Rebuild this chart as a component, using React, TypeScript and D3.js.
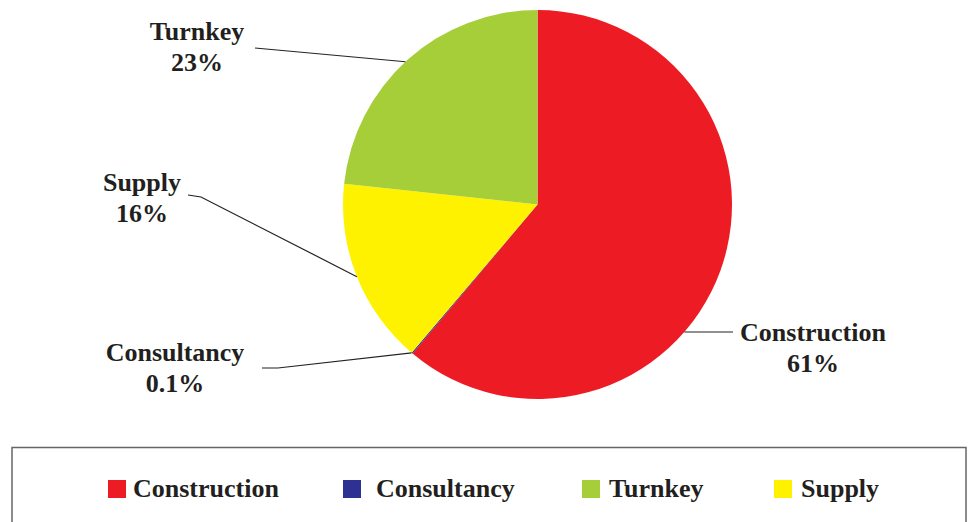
import React from "react";
import * as d3 from "d3";

const categories = ["Construction", "Consultancy", "Supply", "Turnkey"];
const values = [61.1, 0.1, 15.5, 23.3];
const colors = ["#ED1C24", "#2E3192", "#FFF200", "#A6CE39"];
const legendOrder = ["Construction", "Consultancy", "Turnkey", "Supply"];

const W = 976;
const H = 522;
const cx = 537.5;
const cy = 204.5;
const R = 194.5;
const FONT = "Liberation Serif";

const labelLayout: Record<string, { tx: number; ty: number; line: [number, number][] }> = {
  Construction: { tx: 813, ty: 341, line: [[733, 332]] },
  Consultancy: { tx: 175, ty: 361, line: [[278, 368], [262, 368]] },
  Supply: { tx: 142, ty: 191, line: [[201, 197], [188, 195]] },
  Turnkey: { tx: 197, ty: 40, line: [[255, 48]] },
};
const edgeAngleFrac: Record<string, number> = {
  Construction: 0.55,
  Consultancy: 1.0,
  Supply: 0.5,
  Turnkey: 0.49,
};

function fmt(v: number) {
  return v < 1 ? `${v.toFixed(1)}%` : `${Math.round(v)}%`;
}

export default function App() {
  const data = categories.map((c, i) => ({ name: c, value: values[i], color: colors[i] }));
  const pie = d3.pie<any>().value((d) => d.value).sort(null);
  const arcs = pie(data);
  const arcGen = d3.arc<any>().innerRadius(0).outerRadius(R);

  const legendX = d3.scaleOrdinal<string, number>().domain(legendOrder).range([108, 343, 582, 774]);
  const legendTextX = d3.scaleOrdinal<string, number>().domain(legendOrder).range([133, 376, 609, 801]);

  const textStyle = { fontFamily: FONT, fontWeight: 700, fontSize: 26 } as React.CSSProperties;

  return (
    <svg width={W} height={H} style={{ position: "absolute", left: 0, top: 0 }}>
      <rect x={0} y={0} width={W} height={H} fill="#fff" />
      <g transform={`translate(${cx},${cy})`}>
        {arcs.map((a, i) => (
          <path key={i} d={arcGen(a) || ""} fill={a.data.color} />
        ))}
      </g>
      {arcs.map((a, i) => {
        const name = a.data.name;
        const lay = labelLayout[name];
        let ang = a.startAngle + (a.endAngle - a.startAngle) * edgeAngleFrac[name];
        if (name === "Construction") {
          const yy = lay.line[0][1] - cy;
          const xx = Math.sqrt(R * R - yy * yy);
          ang = Math.atan2(xx, -yy);
        }
        const ex = cx + Math.sin(ang) * R;
        const ey = cy - Math.cos(ang) * R;
        const pts: [number, number][] = [[ex, ey], ...lay.line];
        return (
          <g key={"l" + i}>
            <polyline
              points={pts.map((p) => p.join(",")).join(" ")}
              fill="none"
              stroke="#222"
              strokeWidth={1.2}
            />
            <text x={lay.tx} y={lay.ty} textAnchor="middle" style={textStyle} fill="#231f20">
              {name}
            </text>
            <text x={lay.tx} y={lay.ty + 31} textAnchor="middle" style={textStyle} fill="#231f20">
              {fmt(a.data.value)}
            </text>
          </g>
        );
      })}
      <rect x={12} y={447.5} width={954} height={90} fill="none" stroke="#666" strokeWidth={1.5} />
      {legendOrder.map((name) => {
        const idx = categories.indexOf(name);
        const x = legendX(name);
        return (
          <g key={"lg" + name}>
            <rect x={x} y={480} width={18} height={18} fill={colors[idx]} />
            <text x={legendTextX(name)} y={497} style={textStyle} fill="#231f20">
              {name}
            </text>
          </g>
        );
      })}
    </svg>
  );
}
